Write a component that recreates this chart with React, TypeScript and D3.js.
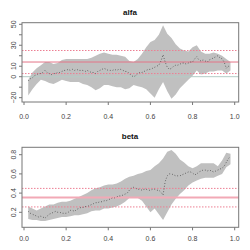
import React, { useEffect, useRef } from 'react';
import * as d3 from 'd3';

// x positions of the estimates
const pointX = [
  0.02, 0.03, 0.04, 0.05, 0.06, 0.07, 0.08, 0.09, 0.10, 0.11, 0.12, 0.13, 0.14, 0.15, 0.16, 0.17,
  0.18, 0.19, 0.20, 0.21, 0.22, 0.23, 0.24, 0.25, 0.26, 0.27, 0.28, 0.29, 0.30, 0.31, 0.32, 0.33,
  0.34, 0.35, 0.36, 0.37, 0.38, 0.39, 0.40, 0.41, 0.42, 0.43, 0.44, 0.45, 0.46, 0.47, 0.48, 0.49,
  0.50, 0.51, 0.52, 0.53, 0.54, 0.55, 0.56, 0.57, 0.58, 0.59, 0.60, 0.61, 0.62, 0.63, 0.64, 0.65,
  0.66, 0.67, 0.68, 0.69, 0.70, 0.71, 0.72, 0.73, 0.74, 0.75, 0.76, 0.77, 0.78, 0.79, 0.80, 0.81,
  0.82, 0.83, 0.84, 0.85, 0.86, 0.87, 0.88, 0.89, 0.90, 0.91, 0.92, 0.93, 0.94, 0.95, 0.96, 0.97, 0.98,
];

const alfaValues = [
  -4, -2, -1, 1, 2, 3, 3, 4, 6, 4, 3, 2, 3, 3, 4, 4,
  5, 6, 6, 7, 6, 7, 6, 7, 6, 6, 6, 5, 6, 5, 4, 4,
  3, 5, 6, 7, 8, 7, 6, 6, 6, 7, 6, 7, 7, 6, 5, 5,
  3, 1, 0, 1, 3, 4, 4, 5, 6, 7, 7, 8, 9, 10, 11, 15,
  21, 14, 9, 7, 8, 10, 11, 11, 12, 13, 13, 12, 13, 14, 14, 17,
  19, 16, 15, 16, 15, 14, 16, 17, 18, 19, 20, 18, 17, 14, 8, 10, 9,
];

const betaValues = [
  0.21, 0.19, 0.18, 0.17, 0.16, 0.15, 0.16, 0.15, 0.14, 0.16, 0.18, 0.19, 0.20, 0.21, 0.20, 0.20,
  0.19, 0.19, 0.19, 0.20, 0.22, 0.22, 0.21, 0.23, 0.24, 0.25, 0.25, 0.26, 0.26, 0.27, 0.28, 0.29,
  0.30, 0.30, 0.31, 0.31, 0.32, 0.32, 0.33, 0.34, 0.35, 0.35, 0.36, 0.37, 0.37, 0.38, 0.39, 0.40,
  0.43, 0.45, 0.46, 0.45, 0.44, 0.44, 0.43, 0.44, 0.44, 0.43, 0.43, 0.44, 0.44, 0.43, 0.43, 0.41,
  0.38, 0.52, 0.58, 0.60, 0.60, 0.59, 0.58, 0.58, 0.58, 0.59, 0.60, 0.61, 0.62, 0.62, 0.61, 0.59,
  0.60, 0.62, 0.63, 0.64, 0.64, 0.63, 0.64, 0.63, 0.62, 0.63, 0.64, 0.65, 0.66, 0.68, 0.72, 0.76, 0.78,
];

// x positions of the confidence band
const bandX = [
  0.02, 0.04, 0.06, 0.08, 0.10, 0.12, 0.14, 0.16, 0.18, 0.20, 0.22, 0.24, 0.26, 0.28, 0.30, 0.32, 0.34,
  0.36, 0.38, 0.40, 0.42, 0.44, 0.46, 0.48, 0.50, 0.52, 0.54, 0.56, 0.58, 0.60, 0.62, 0.64, 0.66,
  0.68, 0.70, 0.72, 0.74, 0.76, 0.78, 0.80, 0.82, 0.84, 0.86, 0.88, 0.90, 0.92, 0.94, 0.96, 0.98,
];

const alfaUpper = [
  -3, 4, 8, 11, 14, 14, 12, 13, 16, 17, 17, 17, 17, 17, 17, 18, 20,
  22, 23, 22, 21, 21, 20, 19, 15, 14, 17, 22, 28, 33, 35, 40, 49,
  41, 37, 31, 27, 25, 24, 28, 30, 24, 22, 22, 23, 22, 20, 17, 14,
];
const alfaLower = [
  -18, -12, -7, -3, -4, -6, -7, -5, -3, -4, -5, -5, -5, -7, -8, -10, -13,
  -11, -8, -8, -9, -10, -10, -12, -11, -8, -9, -10, -12, -16, -20, -12, -5,
  -14, -21, -17, -11, -7, -3, 1, 6, 2, 3, 5, 5, 6, 6, 3, 6,
];

const betaUpper = [
  0.26, 0.24, 0.22, 0.24, 0.26, 0.28, 0.28, 0.30, 0.31, 0.31, 0.32, 0.34, 0.36, 0.38, 0.40, 0.43, 0.45,
  0.46, 0.48, 0.49, 0.49, 0.50, 0.52, 0.55, 0.57, 0.58, 0.60, 0.61, 0.63, 0.64, 0.68, 0.71, 0.76,
  0.83, 0.85, 0.81, 0.75, 0.72, 0.68, 0.66, 0.68, 0.71, 0.71, 0.71, 0.71, 0.68, 0.74, 0.82, 0.81,
];
const betaLower = [
  0.13, 0.12, 0.12, 0.11, 0.11, 0.12, 0.13, 0.14, 0.15, 0.15, 0.16, 0.17, 0.17, 0.18, 0.19, 0.21, 0.22,
  0.22, 0.24, 0.24, 0.25, 0.26, 0.28, 0.31, 0.35, 0.36, 0.35, 0.32, 0.26, 0.20, 0.24, 0.18, 0.12,
  0.20, 0.28, 0.34, 0.39, 0.43, 0.48, 0.51, 0.53, 0.55, 0.56, 0.56, 0.56, 0.58, 0.60, 0.67, 0.70,
];

// reference lines: mean and mean +/- spread
const alfaRef = [14, 25, 3];
const betaRef = [0.354, 0.449, 0.256];

const xTicks = [0, 0.2, 0.4, 0.6, 0.8, 1.0];
const alfaTicks = [-20, -10, 0, 10, 20, 30, 40, 50];
const alfaLabels = [-20, 0, 10, 30, 50];
const betaTicks = [0.2, 0.4, 0.6, 0.8];

const FONT = 'Liberation Sans, Arial, sans-serif';

const App = () => {
  const svgRef = useRef(null);

  useEffect(() => {
    const svg = d3.select(svgRef.current);
    svg.selectAll('*').remove();

    const x = d3.scaleLinear().domain([0, 1]).range([24, 234.7]);

    const panels = [
      {
        title: 'alfa', values: alfaValues, upper: alfaUpper, lower: alfaLower, ref: alfaRef,
        y: d3.scaleLinear().domain([0, 50]).range([76.7, 24.3]),
        top: 22.7, bottom: 102, titleY: 15, labelY: 119,
        ticks: alfaTicks, labels: alfaLabels, fmt: d3.format('d'),
        zero: true, solidColor: '#e57488', solidWidth: 1,
      },
      {
        title: 'beta', values: betaValues, upper: betaUpper, lower: betaLower, ref: betaRef,
        y: d3.scaleLinear().domain([0.2, 0.8]).range([212.3, 154.7]),
        top: 147.3, bottom: 227.3, titleY: 139, labelY: 241,
        ticks: betaTicks, labels: betaTicks, fmt: d3.format('.1f'),
        zero: false, solidColor: '#f2a9b6', solidWidth: 1.8,
      },
    ];

    const left = 22, right = 238.7;

    panels.forEach(p => {
      const g = svg.append('g');
      const y = p.y;

      // confidence band
      const area = d3.area<number>()
        .x((d, i) => x(bandX[i]))
        .y0((d, i) => y(p.lower[i]))
        .y1(d => y(d));
      g.append('path')
        .attr('d', area(p.upper))
        .attr('fill', '#c0c0c0');

      if (p.zero) {
        g.append('line')
          .attr('x1', left).attr('x2', right)
          .attr('y1', y(0)).attr('y2', y(0))
          .attr('stroke', '#b3ccc6').attr('stroke-width', 1);
      }

      // reference lines
      p.ref.forEach((v, i) => {
        g.append('line')
          .attr('x1', left).attr('x2', right)
          .attr('y1', y(v)).attr('y2', y(v))
          .attr('stroke', i === 0 ? p.solidColor : '#ec7f93')
          .attr('stroke-width', i === 0 ? p.solidWidth : 1)
          .attr('stroke-dasharray', i === 0 ? null : '1.5 1.5');
      });

      // estimates, dotted line
      const line = d3.line<number>()
        .x((d, i) => x(pointX[i]))
        .y(d => y(d));
      g.append('path')
        .attr('d', line(p.values))
        .attr('fill', 'none')
        .attr('stroke', '#333')
        .attr('stroke-width', 0.8)
        .attr('stroke-dasharray', '0.8 2');

      // frame
      g.append('rect')
        .attr('x', left).attr('y', p.top)
        .attr('width', right - left).attr('height', p.bottom - p.top)
        .attr('fill', 'none').attr('stroke', '#777').attr('stroke-width', 1);

      // x axis
      xTicks.forEach(t => {
        g.append('line')
          .attr('x1', x(t)).attr('x2', x(t))
          .attr('y1', p.bottom).attr('y2', p.bottom + 3)
          .attr('stroke', '#777');
        g.append('text')
          .attr('x', x(t)).attr('y', p.labelY)
          .attr('text-anchor', 'middle')
          .style('font-family', FONT).style('font-size', '7px').style('fill', '#444')
          .text(d3.format('.1f')(t));
      });

      // y axis
      p.ticks.forEach(t => {
        g.append('line')
          .attr('x1', left - 3).attr('x2', left)
          .attr('y1', y(t)).attr('y2', y(t))
          .attr('stroke', '#777');
      });
      p.labels.forEach(t => {
        g.append('text')
          .attr('transform', `translate(16,${y(t)}) rotate(-90)`)
          .attr('text-anchor', 'middle')
          .style('font-family', FONT).style('font-size', '7px').style('fill', '#444')
          .text(p.fmt(t));
      });

      g.append('text')
        .attr('x', 130).attr('y', p.titleY)
        .attr('text-anchor', 'middle')
        .style('font-family', FONT).style('font-size', '8px').style('font-weight', 'bold')
        .style('fill', '#111')
        .text(p.title);
    });
  }, []);

  return (
    <svg ref={svgRef} width={250} height={250}
      style={{ position: 'absolute', left: 0, top: 0, background: '#fff' }} />
  );
};

export default App;
